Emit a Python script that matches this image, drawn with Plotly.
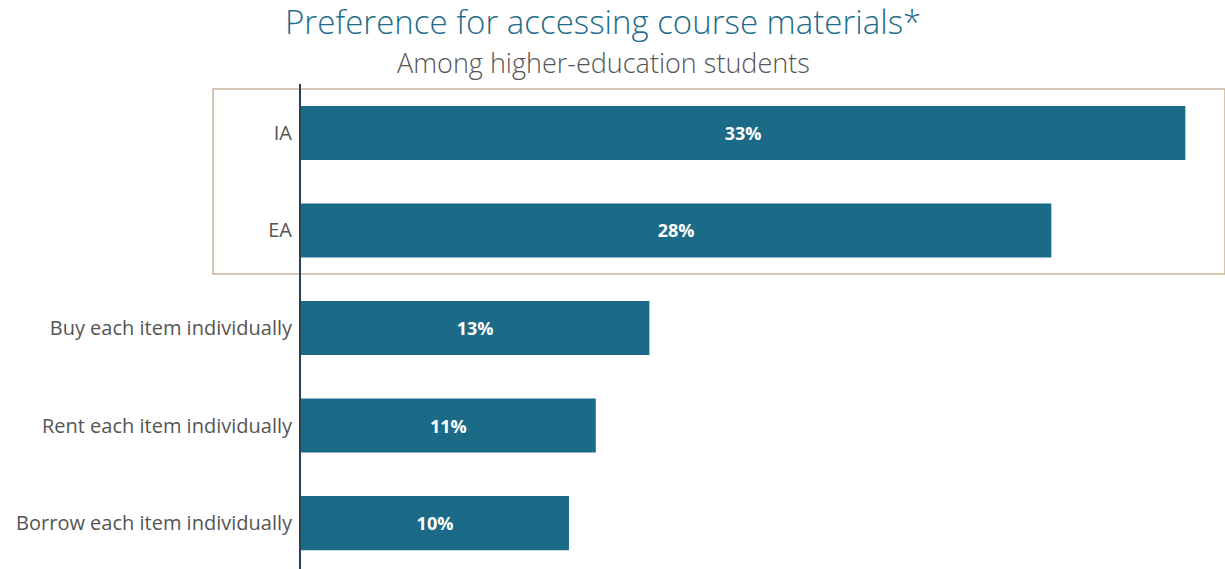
import plotly.graph_objects as go

# Survey responses
categories = ["IA", "EA", "Buy each item individually",
              "Rent each item individually", "Borrow each item individually"]
shares = [33, 28, 13, 11, 10]
value_labels = ["33%", "28%", "13%", "11%", "10%"]

BAR = "#1B6A87"
FONT = "Open Sans"

fig = go.Figure(
    go.Bar(
        x=shares,
        y=categories,
        orientation="h",
        marker=dict(color=BAR, line=dict(width=0)),
        width=0.555,
        text=value_labels,
        textposition="inside",
        insidetextanchor="middle",
        textangle=0,
        textfont=dict(family=FONT, size=18, color="white", weight="bold"),
        hoverinfo="skip",
    )
)

fig.update_layout(
    width=1225,
    height=569,
    margin=dict(l=301, r=0, t=84, b=0),
    plot_bgcolor="white",
    paper_bgcolor="white",
    showlegend=False,
    bargap=0.45,
    xaxis=dict(range=[0, 34.48], visible=False, fixedrange=True),
    yaxis=dict(
        categoryorder="array",
        categoryarray=categories,
        autorange=False,
        range=[4.471, -0.502],
        showline=True,
        linecolor="#2B3F4E",
        linewidth=2,
        showgrid=False,
        zeroline=False,
        ticks="",
        ticklabelstandoff=3,
        tickfont=dict(family=FONT, size=20, color="#555555"),
    ),
    shapes=[
        dict(
            type="rect",
            xref="paper",
            yref="y",
            x0=-0.0952,
            x1=1.0,
            y0=-0.45,
            y1=1.445,
            line=dict(color="#C8B49A", width=1.5),
            fillcolor="rgba(0,0,0,0)",
            layer="below",
        )
    ],
    annotations=[
        dict(
            text="Preference for accessing course materials*",
            xref="paper", yref="paper",
            x=0.327, y=1.0, yshift=63,
            xanchor="center", yanchor="middle",
            showarrow=False,
            font=dict(family=FONT, size=33, color="#1F6D8A", weight=300),
        ),
        dict(
            text="Among higher-education students",
            xref="paper", yref="paper",
            x=0.327, y=1.0, yshift=22,
            xanchor="center", yanchor="middle",
            showarrow=False,
            font=dict(family=FONT, size=27, color="#555555", weight=300),
        ),
    ],
)

fig.write_html("out.html")
